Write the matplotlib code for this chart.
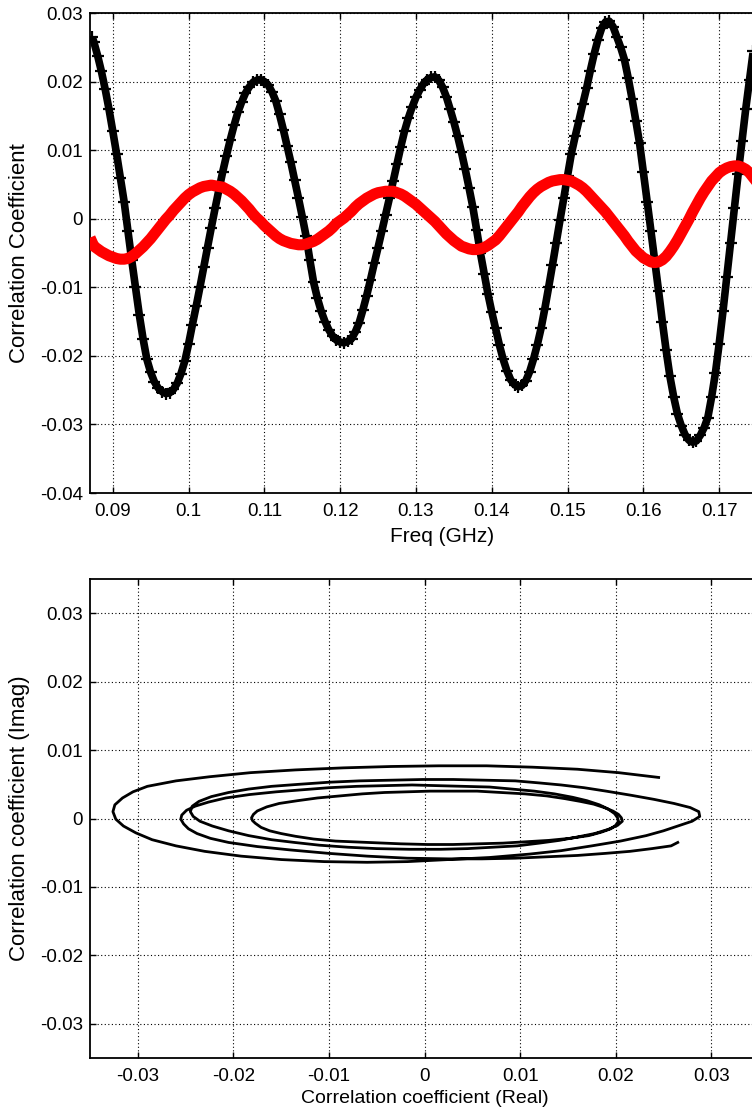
import numpy as np
import matplotlib
matplotlib.use("Agg")
import matplotlib.pyplot as plt
from matplotlib.ticker import FuncFormatter, FixedLocator

plt.rcParams['font.family'] = ['Liberation Sans', 'DejaVu Sans']
plt.rcParams['axes.unicode_minus'] = False

freq_first = 0.0873
freq_start = 0.0875
freq_step = 0.0005

black_first = 0.0265
black_vals = [
    0.0258, 0.0238, 0.0215, 0.0189, 0.0160, 0.0128, 0.0095, 0.0060, 0.0025, -0.0018,
    -0.0060, -0.0100, -0.0140, -0.0175, -0.0205, -0.0224, -0.0238, -0.0247, -0.0252, -0.0255,
    -0.0254, -0.0249, -0.0240, -0.0226, -0.0208, -0.0183, -0.0155, -0.0128, -0.0100, -0.0071,
    -0.0042, -0.0013, 0.0015, 0.0042, 0.0068, 0.0092, 0.0115, 0.0136, 0.0155, 0.0170,
    0.0183, 0.0192, 0.0199, 0.0202, 0.0203, 0.0200, 0.0195, 0.0185, 0.0172, 0.0152,
    0.0130, 0.0106, 0.0082, 0.0056, 0.0030, 0.0003, -0.0025, -0.0060, -0.0093, -0.0116,
    -0.0135, -0.0150, -0.0162, -0.0171, -0.0177, -0.0180, -0.0181, -0.0179, -0.0175, -0.0165,
    -0.0152, -0.0133, -0.0112, -0.0089, -0.0065, -0.0042, -0.0018, 0.0006, 0.0030, 0.0055,
    0.0080, 0.0105, 0.0128, 0.0147, 0.0163, 0.0177, 0.0188, 0.0197, 0.0203, 0.0206,
    0.0207, 0.0202, 0.0192, 0.0178, 0.0160, 0.0141, 0.0120, 0.0097, 0.0072, 0.0045,
    0.0017, -0.0016, -0.0050, -0.0080, -0.0110, -0.0136, -0.0160, -0.0184, -0.0205, -0.0222,
    -0.0235, -0.0242, -0.0245, -0.0243, -0.0236, -0.0223, -0.0205, -0.0184, -0.0160, -0.0131,
    -0.0100, -0.0068, -0.0035, -0.0002, 0.0030, 0.0063, 0.0095, 0.0120, 0.0143, 0.0167,
    0.0190, 0.0216, 0.0240, 0.0261, 0.0278, 0.0287, 0.0288, 0.0280, 0.0265, 0.0250,
    0.0232, 0.0205, 0.0175, 0.0143, 0.0110, 0.0068, 0.0025, -0.0018, -0.0060, -0.0105,
    -0.0150, -0.0192, -0.0230, -0.0260, -0.0285, -0.0302, -0.0315, -0.0323, -0.0326, -0.0324,
    -0.0316, -0.0305, -0.0290, -0.0260, -0.0225, -0.0182, -0.0135, -0.0085, -0.0035, 0.0015,
    0.0065, 0.0113, 0.0160, 0.0203, 0.0245,
]

red_first = -0.0035
red_vals = [
    -0.0040, -0.0044, -0.0048, -0.0051, -0.0054, -0.0056, -0.0058, -0.0059, -0.0059, -0.0058,
    -0.0055, -0.0051, -0.0046, -0.0041, -0.0035, -0.0029, -0.0022, -0.0015, -0.0008, -0.0001,
    0.0005, 0.0012, 0.0018, 0.0024, 0.0030, 0.0035, 0.0039, 0.0042, 0.0045, 0.0047,
    0.0048, 0.0049, 0.0048, 0.0047, 0.0046, 0.0043, 0.0040, 0.0036, 0.0031, 0.0026,
    0.0020, 0.0014, 0.0007, 0.0001, -0.0004, -0.0010, -0.0015, -0.0020, -0.0025, -0.0029,
    -0.0032, -0.0034, -0.0036, -0.0037, -0.0038, -0.0038, -0.0037, -0.0035, -0.0033, -0.0030,
    -0.0026, -0.0022, -0.0018, -0.0013, -0.0007, -0.0003, 0.0001, 0.0006, 0.0011, 0.0017,
    0.0022, 0.0026, 0.0030, 0.0033, 0.0036, 0.0038, 0.0039, 0.0040, 0.0040, 0.0040,
    0.0038, 0.0036, 0.0033, 0.0029, 0.0025, 0.0021, 0.0016, 0.0011, 0.0006, 0.0001,
    -0.0004, -0.0010, -0.0016, -0.0022, -0.0027, -0.0032, -0.0036, -0.0040, -0.0042, -0.0044,
    -0.0045, -0.0045, -0.0044, -0.0042, -0.0039, -0.0035, -0.0031, -0.0025, -0.0018, -0.0011,
    -0.0004, 0.0003, 0.0010, 0.0018, 0.0025, 0.0032, 0.0038, 0.0043, 0.0047, 0.0050,
    0.0053, 0.0055, 0.0056, 0.0057, 0.0057, 0.0056, 0.0055, 0.0052, 0.0049, 0.0045,
    0.0040, 0.0034, 0.0028, 0.0022, 0.0016, 0.0010, 0.0003, -0.0004, -0.0011, -0.0018,
    -0.0025, -0.0033, -0.0040, -0.0047, -0.0052, -0.0057, -0.0060, -0.0063, -0.0064, -0.0063,
    -0.0060, -0.0055, -0.0048, -0.0040, -0.0031, -0.0021, -0.0011, -0.0001, 0.0010, 0.0020,
    0.0030, 0.0039, 0.0047, 0.0055, 0.0061, 0.0067, 0.0071, 0.0074, 0.0076, 0.0077,
    0.0077, 0.0075, 0.0072, 0.0067, 0.0060,
]

top_xticks = [0.09, 0.10, 0.11, 0.12, 0.13, 0.14, 0.15, 0.16, 0.17]
top_yticks = [-0.04, -0.03, -0.02, -0.01, 0.0, 0.01, 0.02, 0.03]
bot_ticks = [-0.03, -0.02, -0.01, 0.0, 0.01, 0.02, 0.03]

freq = np.concatenate([[freq_first], freq_start + freq_step * np.arange(len(black_vals))])
black = np.array([black_first] + black_vals)
red = np.array([red_first] + red_vals)

# ---- figure ----
W, H = 752, 1113
fig = plt.figure(figsize=(W / 100, H / 100), dpi=100)

def px_axes(l, t, r, b):
    return [l / W, 1 - b / H, (r - l) / W, (b - t) / H]

fmt = FuncFormatter(lambda v, p: ('%g' % round(v, 4)) if abs(v) > 1e-12 else '0')

def style(ax):
    ax.grid(True, color='black', linestyle=(0, (1, 2.2)), linewidth=0.8)
    ax.tick_params(direction='in', top=True, right=True, length=4, width=1,
                   labelsize=13.5, colors='black')
    ax.tick_params(axis='x', pad=7)
    ax.tick_params(axis='y', pad=5)
    for s in ax.spines.values():
        s.set_linewidth(1.3)
    ax.xaxis.set_major_formatter(fmt)
    ax.yaxis.set_major_formatter(fmt)

# top panel (right part of the axes runs past the picture edge, as in the reference)
ax1 = fig.add_axes(px_axes(90, 13, 795, 493))
ax1.plot(freq, black, color='black', linewidth=5.5, solid_capstyle='butt', zorder=3)
ax1.plot(freq, black, color='black', linestyle='none', marker='+', markersize=8,
         markeredgewidth=1.6, zorder=3)
ax1.plot(freq, red, color='#ff0000', linewidth=8, zorder=4)
ax1.set_xlim(0.087, 0.18)
ax1.set_ylim(-0.04, 0.03)
ax1.xaxis.set_major_locator(FixedLocator(top_xticks))
ax1.yaxis.set_major_locator(FixedLocator(top_yticks))
style(ax1)
ax1.set_xlabel('Freq (GHz)', fontsize=15, labelpad=5)
ax1.set_ylabel('Correlation Coefficient', fontsize=16, labelpad=7)

# bottom panel
ax2 = fig.add_axes(px_axes(90, 579, 759, 1058))
ax2.plot(black, red, color='black', linewidth=2, zorder=3)
ax2.set_xlim(-0.035, 0.035)
ax2.set_ylim(-0.035, 0.035)
ax2.xaxis.set_major_locator(FixedLocator(bot_ticks))
ax2.yaxis.set_major_locator(FixedLocator(bot_ticks))
style(ax2)
ax2.set_xlabel('Correlation coefficient (Real)', fontsize=14, labelpad=4)
ax2.set_ylabel('Correlation coefficient (Imag)', fontsize=16, labelpad=7)

fig.savefig('out.png', dpi=100)
